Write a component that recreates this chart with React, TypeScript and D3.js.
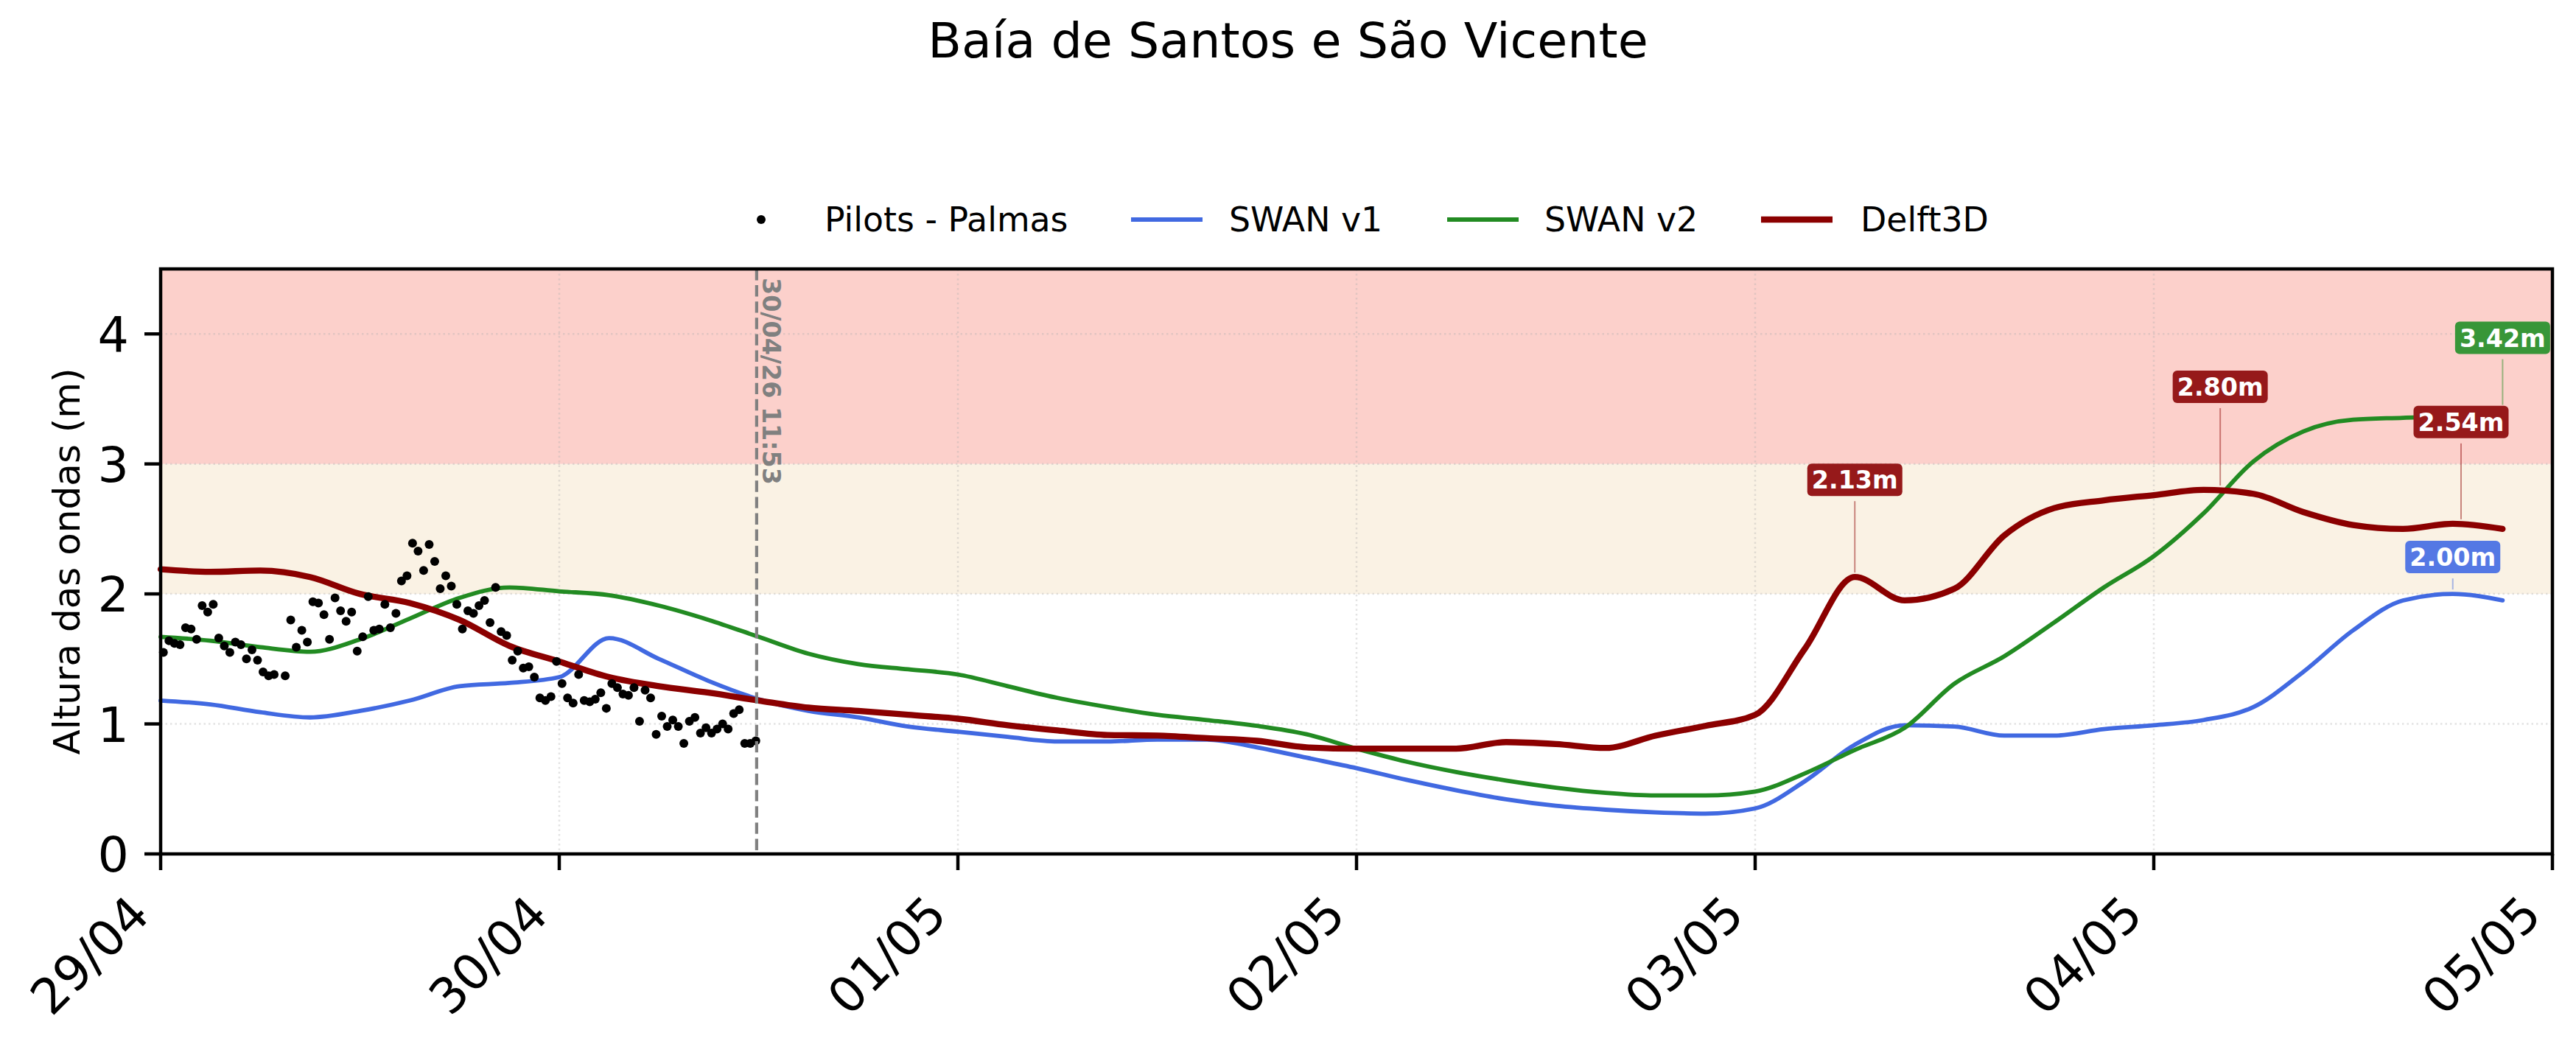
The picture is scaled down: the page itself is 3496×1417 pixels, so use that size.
import React from 'react';
import * as d3 from 'd3';

// ---- data ----
const title = 'Baía de Santos e São Vicente';
const yLabel = 'Altura das ondas (m)';

// model runs: one value every 3 hours from 29/04 00:00
const modelStart = new Date(Date.UTC(2026, 3, 29, 0, 0));
const modelStepHours = 3;

const swanV1 = [
  1.18, 1.15, 1.09, 1.05, 1.1, 1.18, 1.29, 1.315, 1.36, 1.66, 1.5, 1.33, 1.19, 1.1, 1.05, 0.98,
  0.94, 0.9, 0.865, 0.865, 0.88, 0.88, 0.82, 0.74,
  0.66, 0.57, 0.49, 0.42, 0.37, 0.34, 0.32, 0.31,
  0.35, 0.56, 0.84, 0.99, 0.98, 0.91, 0.91, 0.96,
  0.99, 1.03, 1.13, 1.4, 1.72, 1.95, 2.0, 1.95
];

const swanV2 = [
  1.67, 1.64, 1.59, 1.555, 1.65, 1.81, 1.97, 2.05, 2.02, 1.99, 1.91, 1.8, 1.67, 1.54, 1.46, 1.42,
  1.38, 1.29, 1.2, 1.13, 1.07, 1.03, 0.985, 0.92,
  0.81, 0.71, 0.63, 0.565, 0.51, 0.47, 0.45, 0.45,
  0.48, 0.62, 0.8, 0.97, 1.31, 1.52, 1.78, 2.05,
  2.29, 2.62, 3.02, 3.25, 3.34, 3.355, 3.37, 3.42
];

const delft3d = [
  2.19, 2.17, 2.18, 2.13, 2.0, 1.93, 1.8, 1.6, 1.48, 1.36, 1.29, 1.24, 1.18, 1.125, 1.1, 1.07,
  1.04, 0.99, 0.95, 0.915, 0.91, 0.89, 0.87, 0.82,
  0.81, 0.81, 0.81, 0.86, 0.845, 0.815, 0.91, 0.985,
  1.07, 1.58, 2.13, 1.95, 2.04, 2.45, 2.66, 2.72,
  2.76, 2.8, 2.77, 2.63, 2.53, 2.5, 2.54, 2.5
];

// observations: one value every 20 minutes from 29/04 00:10 (null = missing)
const obsStart = new Date(Date.UTC(2026, 3, 29, 0, 10));
const obsStepMinutes = 20;
const pilotsPalmas: (number | null)[] = [
  1.55, 1.64, 1.62, 1.61, 1.74, 1.73, 1.65, 1.91, 1.86, 1.92,
  1.66, 1.6, 1.55, 1.63, 1.61, 1.5, 1.57, 1.49, 1.4, 1.37,
  1.38, null,
  1.37, 1.8, 1.59, 1.72, 1.63, 1.94, 1.93, 1.84, 1.65, 1.97,
  1.87, 1.79, 1.86, 1.56, 1.67, 1.98, 1.72, 1.73, 1.92, 1.74,
  1.85, 2.1, 2.14, 2.39, 2.33, 2.18, 2.38, 2.25, 2.04, 2.14,
  2.06, 1.92, 1.73, 1.87, 1.85, 1.91, 1.95, 1.78, 2.05, 1.71,
  1.68, 1.49, 1.56, 1.43, 1.44, 1.36, 1.2, 1.18, 1.21, 1.48,
  1.31, 1.2, 1.16, 1.38, 1.18, 1.17, 1.19, 1.24, 1.12, 1.31,
  1.28, 1.23, 1.22, 1.28, 1.02, 1.26, 1.2, 0.92, 1.06, 0.98,
  1.03, 0.98, 0.85, 1.02, 1.05, 0.93, 0.97, 0.93, 0.96, 1.0,
  0.96, 1.08, 1.11, 0.85, 0.85, 0.87
];

const lastObsTime = new Date(Date.UTC(2026, 3, 30, 11, 53));
const xDomain = [new Date(Date.UTC(2026, 3, 29)), new Date(Date.UTC(2026, 4, 5))];
const yDomain = [0, 4.5];
const yTicks = [0, 1, 2, 3, 4];
const alertLevels = [2, 3]; // attention / alert thresholds

const peaks = [
  { series: 'Delft3D', time: new Date(Date.UTC(2026, 4, 3, 6, 0)), value: 2.13 },
  { series: 'Delft3D', time: new Date(Date.UTC(2026, 4, 4, 4, 0)), value: 2.8 },
  { series: 'Delft3D', time: new Date(Date.UTC(2026, 4, 4, 18, 30)), value: 2.54 },
  { series: 'SWAN v1', time: new Date(Date.UTC(2026, 4, 4, 18, 0)), value: 2.0 },
  { series: 'SWAN v2', time: new Date(Date.UTC(2026, 4, 4, 21, 0)), value: 3.42 }
];

// ---- layout / style ----
const W = 3496;
const H = 1417;
const plot = { left: 218, right: 3464, top: 365, bottom: 1159 };
const font = "'DejaVu Sans', sans-serif";
const peakOffsets = [-132, -140, -138, -50, -97];
const bandColors = ['#faf2e4', '#fcd0cb'];
const dotR = 6;

const seriesStyle: Record<string, { color: string; width: number; box: string }> = {
  'SWAN v1': { color: '#4169e1', width: 5.8, box: '#5478e4' },
  'SWAN v2': { color: '#228b22', width: 5.8, box: '#389638' },
  Delft3D: { color: '#8b0000', width: 8.3, box: '#96191a' }
};

const App = () => {
  const x = d3.scaleUtc().domain(xDomain).range([plot.left, plot.right]);
  const y = d3.scaleLinear().domain(yDomain).range([plot.bottom, plot.top]);
  const fmt = d3.utcFormat('%d/%m');
  const xTicks = d3.utcDay.range(xDomain[0], d3.utcDay.offset(xDomain[1], 1));

  const modelTime = (i: number) => d3.utcHour.offset(modelStart, i * modelStepHours);
  const line = d3
    .line<number>()
    .x((_, i) => x(modelTime(i)))
    .y(d => y(d))
    .curve(d3.curveMonotoneX);

  const obs = pilotsPalmas
    .map((v, i) => ({ t: d3.utcMinute.offset(obsStart, i * obsStepMinutes), v }))
    .filter(d => d.v !== null) as { t: Date; v: number }[];

  const models: [string, number[]][] = [
    ['SWAN v1', swanV1],
    ['SWAN v2', swanV2],
    ['Delft3D', delft3d]
  ];

  const bandEdges = [alertLevels[0], alertLevels[1], yDomain[1]];
  const vx = x(lastObsTime);

  const legendItems = [
    { label: 'Pilots - Palmas', kind: 'dot', hx: 1033, tx: 1119 },
    { label: 'SWAN v1', kind: 'line', hx: 1535, tx: 1668 },
    { label: 'SWAN v2', kind: 'line', hx: 1964, tx: 2096 },
    { label: 'Delft3D', kind: 'line', hx: 2390, tx: 2525 }
  ];

  return (
    <svg
      width={W}
      height={H}
      viewBox={`0 0 ${W} ${H}`}
      style={{ position: 'fixed', left: 0, top: 0, background: '#fff' }}
      fontFamily={font}
    >
      <rect x={0} y={0} width={W} height={H} fill="#fff" />
      <text x={W / 2} y={78} textAnchor="middle" fontSize={66.7} fill="#000">
        {title}
      </text>

      {/* alert bands */}
      {bandEdges.slice(0, 2).map((lo, i) => (
        <rect
          key={'band' + i}
          x={plot.left}
          y={y(bandEdges[i + 1])}
          width={plot.right - plot.left}
          height={y(lo) - y(bandEdges[i + 1])}
          fill={bandColors[i]}
        />
      ))}

      {/* grid */}
      <g stroke="#b0b0b0" strokeOpacity={0.35} strokeWidth={2.5} strokeDasharray="2.5,4">
        {yTicks.map(t => (
          <line key={'gy' + t} x1={plot.left} x2={plot.right} y1={y(t)} y2={y(t)} />
        ))}
        {xTicks.map(t => (
          <line key={'gx' + t.getTime()} x1={x(t)} x2={x(t)} y1={plot.top} y2={plot.bottom} />
        ))}
      </g>

      {/* model lines */}
      {models.map(([name, vals]) => (
        <path
          key={name}
          d={line(vals) || ''}
          fill="none"
          stroke={seriesStyle[name].color}
          strokeWidth={seriesStyle[name].width}
          strokeLinejoin="round"
          strokeLinecap="round"
        />
      ))}

      {/* observations */}
      <g fill="#000">
        {obs.map((d, i) => (
          <circle key={'o' + i} cx={x(d.t)} cy={y(d.v)} r={dotR} />
        ))}
      </g>

      {/* last observation marker */}
      <line
        x1={vx}
        x2={vx}
        y1={plot.top}
        y2={plot.bottom}
        stroke="#808080"
        strokeWidth={4.2}
        strokeDasharray="15.4,6.7"
      />
      <text
        transform={`translate(${vx + 8},${plot.top + 12}) rotate(90)`}
        fontSize={33.3}
        fontWeight="bold"
        fill="#808080"
      >
        {d3.utcFormat('%d/%m/%y %H:%M')(lastObsTime)}
      </text>

      {/* peak annotations */}
      {peaks.map((p, i) => {
        const px = x(p.time);
        const py = y(p.value);
        const cy = py + peakOffsets[i];
        const st = seriesStyle[p.series];
        return (
          <g key={'pk' + i}>
            <line
              x1={px}
              x2={px}
              y1={py - 6}
              y2={cy + 29}
              stroke={st.color}
              strokeOpacity={0.45}
              strokeWidth={2}
            />
            <rect x={px - 64.5} y={cy - 22} width={129} height={44} rx={6} fill={st.box} />
            <text
              x={px}
              y={cy + 12}
              textAnchor="middle"
              fontSize={33.3}
              fontWeight="bold"
              fill="#fff"
            >
              {p.value.toFixed(2) + 'm'}
            </text>
          </g>
        );
      })}

      {/* spines */}
      <rect
        x={plot.left}
        y={plot.top}
        width={plot.right - plot.left}
        height={plot.bottom - plot.top}
        fill="none"
        stroke="#000"
        strokeWidth={4.5}
      />

      {/* y axis */}
      {yTicks.map(t => (
        <g key={'yt' + t}>
          <line x1={plot.left - 22} x2={plot.left} y1={y(t)} y2={y(t)} stroke="#000" strokeWidth={4.5} />
          <text x={175} y={y(t) + 24} textAnchor="end" fontSize={66.7} fill="#000">
            {t}
          </text>
        </g>
      ))}
      <text
        transform={`translate(108,${(plot.top + plot.bottom) / 2}) rotate(-90)`}
        textAnchor="middle"
        fontSize={50}
        fill="#000"
      >
        {yLabel}
      </text>

      {/* x axis */}
      {xTicks.map(t => (
        <g key={'xt' + t.getTime()}>
          <line x1={x(t)} x2={x(t)} y1={plot.bottom} y2={plot.bottom + 22} stroke="#000" strokeWidth={4.5} />
          <text
            transform={`translate(${x(t) - 12},1245) rotate(-45)`}
            textAnchor="end"
            fontSize={66.7}
            fill="#000"
          >
            {fmt(t)}
          </text>
        </g>
      ))}

      {/* legend */}
      {legendItems.map(it => (
        <g key={it.label}>
          {it.kind === 'dot' ? (
            <circle cx={it.hx} cy={298} r={dotR} fill="#000" />
          ) : (
            <line
              x1={it.hx}
              x2={it.hx + 97}
              y1={298}
              y2={298}
              stroke={seriesStyle[it.label].color}
              strokeWidth={seriesStyle[it.label].width}
            />
          )}
          <text x={it.tx} y={314} fontSize={45.8} fill="#000">
            {it.label}
          </text>
        </g>
      ))}
    </svg>
  );
};

export default App;
